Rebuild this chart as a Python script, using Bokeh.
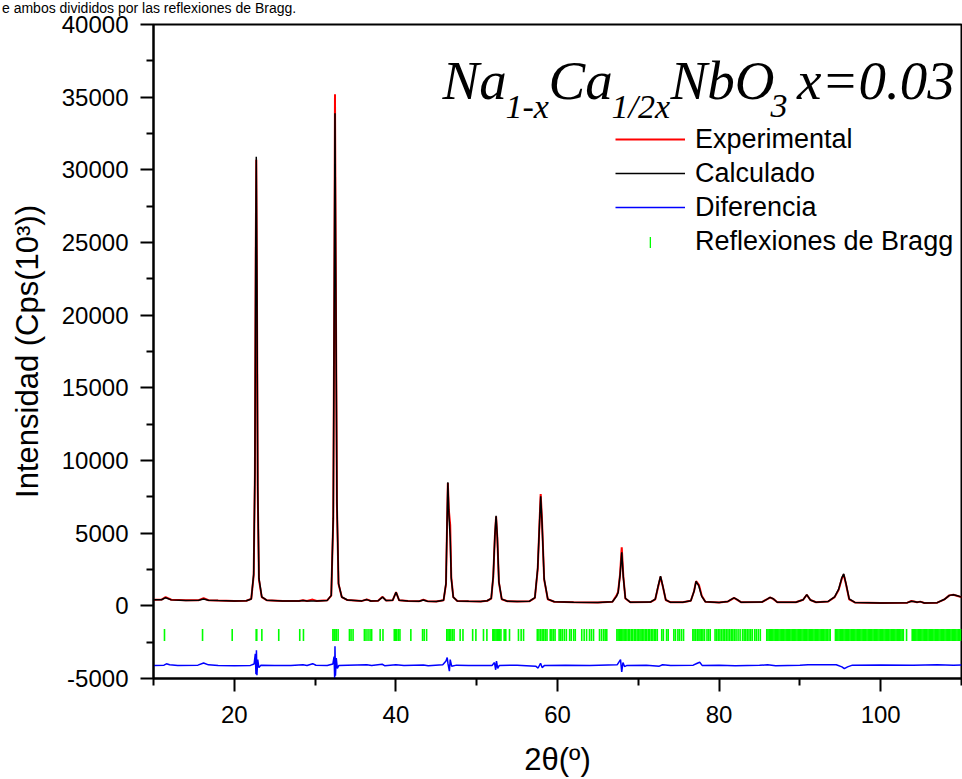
import numpy as np
from bokeh.plotting import figure
from bokeh.layouts import column
from bokeh.models import Range1d, FixedTicker, Legend, LegendItem, Label, Div
from bokeh.embed import file_html
from bokeh.resources import INLINE

# ---------------- data ----------------
two_theta = [10.0, 11.0, 11.5, 12.2, 14.0, 15.6, 16.2, 16.8, 18.0, 20.0, 21.5, 22.1, 22.4, 22.55,
             22.65, 22.72, 22.8, 22.9, 23.05, 23.4, 24.0, 26.0, 28.0, 28.5, 29.0, 29.7, 30.2, 31.5,
             32.0, 32.25, 32.38, 32.46, 32.55, 32.7, 32.9, 33.3, 34.0, 35.8, 36.4, 36.9, 37.8, 38.35,
             38.8, 39.6, 40.02, 40.4, 41.5, 42.9, 43.4, 43.9, 45.0, 45.9, 46.2, 46.33, 46.43, 46.55,
             46.72, 46.85, 47.1, 47.6, 49.0, 50.5, 51.3, 51.8, 52.05, 52.25, 52.4, 52.55, 52.75, 53.1,
             53.8, 55.0, 56.5, 57.2, 57.55, 57.78, 57.92, 58.08, 58.35, 58.8, 59.6, 62.0, 65.0, 66.8,
             67.3, 67.5, 67.75, 67.95, 68.15, 68.4, 69.0, 71.5, 72.1, 72.45, 72.75, 73.05, 73.4, 74.0,
             75.5, 76.5, 76.9, 77.15, 77.5, 77.85, 78.3, 80.0, 81.1, 81.5, 81.85, 82.2, 82.7, 85.3,
             85.9, 86.3, 86.7, 87.2, 89.5, 90.4, 90.85, 91.3, 92.0, 93.5, 94.3, 94.8, 95.2, 95.42,
             95.7, 96.1, 96.8, 100.0, 103.3, 103.8, 104.1, 104.5, 104.9, 105.4, 107.0, 107.9, 108.5,
             109.0, 109.5, 110.0]

exp_counts = [420, 430, 600, 420, 380, 390, 530, 385, 360, 340, 350, 480, 2100, 9000,
              24000, 30700, 22000, 8000, 1800, 600, 390, 335, 330, 390, 335, 430, 335, 380,
              700, 6000, 22000, 35200, 24000, 7000, 1500, 600, 400, 340, 440, 335, 350, 620,
              360, 380, 950, 380, 330, 320, 420, 320, 300, 380, 1500, 5500, 8450, 6600,
              5560, 2000, 600, 330, 310, 300, 350, 500, 2000, 4800, 6150, 4700, 1600, 450,
              320, 300, 310, 550, 2500, 5800, 7700, 5900, 1800, 450, 280, 250, 230, 280,
              700, 950, 2200, 4030, 2000, 500, 250, 260, 450, 1300, 2000, 1300, 400, 240,
              250, 350, 1000, 1700, 1450, 700, 280, 230, 300, 430, 540, 430, 250, 260,
              450, 570, 480, 250, 250, 420, 760, 400, 250, 300, 600, 1100, 1900, 2150,
              1500, 450, 230, 200, 220, 330, 300, 250, 290, 200, 220, 450, 720,
              760, 680, 600]

calc_counts = [410, 420, 560, 410, 375, 385, 470, 380, 360, 340, 350, 470, 2200, 9300,
               24500, 30900, 22500, 8200, 1900, 620, 390, 335, 330, 370, 330, 340, 330, 375,
               720, 6200, 22500, 33900, 23500, 7200, 1550, 610, 400, 340, 430, 330, 350, 600,
               360, 380, 930, 380, 330, 320, 400, 320, 300, 390, 1550, 5700, 8500, 6400,
               4670, 1900, 600, 330, 310, 300, 350, 520, 2050, 4850, 6200, 4750, 1650, 460,
               320, 300, 310, 560, 2600, 5750, 7530, 5800, 1850, 460, 280, 250, 230, 280,
               650, 900, 2150, 3690, 1950, 520, 250, 260, 460, 1350, 2040, 1320, 410, 240,
               250, 350, 1000, 1680, 1350, 650, 280, 230, 300, 440, 550, 440, 250, 260,
               450, 580, 490, 250, 250, 420, 770, 400, 250, 300, 620, 1150, 1950, 2200,
               1550, 480, 230, 200, 220, 320, 300, 250, 290, 200, 220, 450, 720,
               760, 690, 600]

diff_theta = [10.0, 11.3, 11.6, 12.0, 13.0, 15.5, 16.2, 16.8, 18.0, 20.0, 22.0, 22.45, 22.6,
              22.68, 22.74, 22.8, 22.9, 23.05, 23.3, 25.0, 27.0, 28.5, 29.0, 29.7, 30.1, 31.5,
              32.2, 32.35, 32.42, 32.46, 32.52, 32.62, 32.75, 32.95, 34.0, 36.4, 37.0, 38.3,
              38.6, 40.0, 41.0, 43.4, 44.0, 45.8, 46.2, 46.35, 46.45, 46.62, 46.72, 46.9, 47.5,
              49.0, 51.9, 52.2, 52.35, 52.45, 52.6, 52.8, 55.0, 57.3, 57.6, 57.9, 58.1, 58.4,
              61.0, 64.0, 67.4, 67.8, 67.95, 68.1, 68.3, 68.6, 71.0, 72.6, 73.0, 74.0, 76.8,
              77.3, 77.6, 77.9, 80.0, 82.0, 85.0, 86.0, 87.0, 90.0, 91.0, 93.0, 94.5, 95.2,
              95.5, 95.9, 96.5, 100.0, 104.0, 107.0, 109.0, 110.0]

diff_counts = [-4100, -4080, -3990, -4060, -4100, -4080, -3930, -4060, -4110, -4120, -4100, -4000, -3300,
               -4700, -3060, -4770, -3700, -4250, -4080, -4100, -4110, -4050, -4100, -3980, -4090, -4100,
               -4000, -3500, -5000, -2780, -4800, -3600, -4300, -4100, -4080, -4050, -4100, -4020,
               -4120, -4060, -4110, -4070, -4120, -4050, -3800, -3560, -4000, -4500, -3700, -4150, -4080,
               -4100, -4100, -3900, -4400, -3800, -4300, -4100, -4090, -4150, -4280, -3950, -4250, -4100,
               -4080, -4110, -4050, -3700, -4540, -3900, -4180, -4100, -4090, -4150, -4050, -4100, -4080,
               -3950, -3880, -4100, -4090, -4120, -4090, -4060, -4120, -4080, -4050, -4060, -4050, -4200,
               -4320, -4200, -4080, -4070, -4090, -4060, -4080, -4070]

bragg_positions = [
    11.36, 16.07, 19.74, 22.71, 22.78, 23.41, 25.5, 28.1, 28.56, 32.2, 32.35, 32.46, 32.62, 32.85,
    34.25, 34.45, 34.7, 36.1, 36.3, 36.55, 36.8, 37.0, 38.05, 38.4, 39.8, 39.95, 40.1, 40.3, 40.5,
    41.85, 43.3, 43.5, 43.8, 46.3, 46.45, 46.6, 46.8, 47.0, 47.2, 47.95, 48.3, 49.5, 49.9, 50.84,
    51.26, 52.0, 52.1, 52.25, 52.4, 52.55, 52.7, 52.85, 53.0, 53.4, 53.6, 54.06, 55.17, 55.5, 55.8,
    57.5, 57.7, 57.9, 58.1, 58.3, 58.5, 58.7, 59.1, 59.3, 59.5, 59.7, 60.2, 60.4, 60.6, 60.85, 61.1,
    61.5, 61.7, 62.0, 62.2, 63.0, 63.3, 63.6, 63.96, 64.2, 64.46, 65.2, 65.45, 65.7, 65.9, 66.1,
    67.35, 67.5, 67.65, 67.8, 67.95, 68.1, 68.25, 68.45, 68.6, 68.8, 68.95, 69.15, 69.3, 69.5,
    69.65, 69.85, 70.0, 70.2, 70.35, 70.55, 70.7, 70.9, 71.05, 71.25, 71.4, 71.6, 71.8, 72.0,
    72.15, 72.35, 72.9, 73.1, 73.5, 73.7, 74.4, 74.6, 74.9, 75.1, 75.35, 75.6, 76.75, 76.9, 77.1,
    77.3, 77.5, 77.65, 77.85, 78.0, 78.2, 78.5, 78.7, 78.9, 79.5, 79.7, 79.9, 80.1, 80.3, 80.5,
    80.7, 80.9, 81.1, 81.3, 81.5, 81.7, 81.9, 82.1, 82.35, 82.6, 82.9, 83.1, 83.3, 83.5, 83.7,
    83.9, 84.1, 84.4, 84.6, 84.85, 85.1, 85.9, 86.05, 86.2, 86.35, 86.5, 86.65, 86.8, 86.95,
    87.1, 87.25, 87.4, 87.55, 87.7, 87.85, 88.0, 88.15, 88.3, 88.45, 88.6, 88.75, 88.9, 89.05,
    89.2, 89.35, 89.5, 89.65, 89.8, 89.95, 90.1, 90.25, 90.4, 90.55, 90.7, 90.85, 91.0, 91.15,
    91.3, 91.45, 91.6, 91.75, 91.9, 92.05, 92.2, 92.35, 92.5, 92.65, 92.8, 92.95, 93.1, 93.25,
    93.4, 93.6, 93.75, 94.4, 94.55, 94.7, 94.85, 95.0, 95.15, 95.3, 95.45, 95.6, 95.75, 95.9,
    96.05, 96.2, 96.35, 96.5, 96.65, 96.8, 96.95, 97.1, 97.25, 97.4, 97.55, 97.7, 97.85, 98.0,
    98.15, 98.3, 98.45, 98.6, 98.75, 98.9, 99.05, 99.2, 99.35, 99.5, 99.65, 99.8, 99.95, 100.1,
    100.25, 100.4, 100.55, 100.7, 100.85, 101.0, 101.15, 101.3, 101.45, 101.6, 101.75, 101.9,
    102.05, 102.2, 102.35, 102.5, 102.65, 102.8, 103.2, 103.9, 104.05, 104.2, 104.35, 104.5,
    104.65, 104.8, 104.95, 105.1, 105.25, 105.4, 105.55, 105.7, 105.85, 106.0, 106.15, 106.3,
    106.45, 106.6, 106.75, 106.9, 107.05, 107.2, 107.35, 107.5, 107.65, 107.8, 107.95, 108.1,
    108.25, 108.4, 108.55, 108.7, 108.85, 109.0, 109.15, 109.3, 109.45, 109.6, 109.75, 109.9]
bragg_level = -2000

x_ticks = [20, 40, 60, 80, 100]
x_tick_labels = ["20", "40", "60", "80", "100"]
x_minor_ticks = [10, 30, 50, 70, 90, 110]
y_ticks = [-5000, 0, 5000, 10000, 15000, 20000, 25000, 30000, 35000, 40000]
y_tick_labels = ["-5000", "0", "5000", "10000", "15000", "20000", "25000", "30000", "35000", "40000"]
y_minor_ticks = [-2500, 2500, 7500, 12500, 17500, 22500, 27500, 32500, 37500]

series_names = ["Experimental", "Calculado", "Diferencia", "Reflexiones de Bragg"]
caption = "e ambos divididos por las reflexiones de Bragg."
x_title = "2θ(º)"
y_title = "Intensidad (Cps(10³))"

# ---------------- caption strip above the chart (cropped in the original) ----------------
cap = Div(text=('<div style="font-family:\'Liberation Sans\',Arial,sans-serif;font-size:14px;'
                'line-height:16px;white-space:nowrap;color:black;margin:0;padding:0 0 0 2px;">'
                + caption + '</div>'),
          width=962, height=9, margin=(0, 0, 0, 0), styles={"overflow": "visible"})

# ---------------- figure ----------------
p = figure(width=962, height=770, output_backend="svg", toolbar_location=None,
           x_range=Range1d(10, 110), y_range=Range1d(-5000, 40000),
           min_border_left=153, min_border_right=1, min_border_top=15, min_border_bottom=99,
           background_fill_color="white", border_fill_alpha=0, margin=(0, 0, 0, 0))
p.grid.visible = False
p.outline_line_color = "black"
p.outline_line_width = 2
p.outline_line_alpha = 1

p.xaxis.ticker = FixedTicker(ticks=x_ticks, minor_ticks=x_minor_ticks)
p.yaxis.ticker = FixedTicker(ticks=y_ticks, minor_ticks=y_minor_ticks)
p.xaxis.major_label_overrides = dict(zip(x_ticks, x_tick_labels))
p.yaxis.major_label_overrides = dict(zip(y_ticks, y_tick_labels))

for ax in (p.xaxis[0], p.yaxis[0]):
    ax.axis_line_width = 2
    ax.axis_line_color = "black"
    ax.major_tick_line_width = 2
    ax.minor_tick_line_width = 2
    ax.major_tick_line_color = "black"
    ax.minor_tick_line_color = "black"
    ax.major_tick_in = 0
    ax.major_tick_out = 13
    ax.minor_tick_in = 0
    ax.minor_tick_out = 7
    ax.major_label_text_font = "Liberation Sans"
    ax.major_label_text_font_size = "24px"
    ax.major_label_text_color = "black"
    ax.axis_label_text_font = "Liberation Sans"
    ax.axis_label_text_font_size = "31px"
    ax.axis_label_text_font_style = "normal"
    ax.axis_label_text_color = "black"

p.xaxis.axis_label = x_title
p.yaxis.axis_label = y_title
p.xaxis.major_label_standoff = 14
p.xaxis.axis_label_standoff = 16
p.yaxis.major_label_standoff = 12
p.yaxis.axis_label_standoff = 14

r_exp = p.line(two_theta, exp_counts, line_color="#ff0000", line_width=2)
r_calc = p.line(two_theta, calc_counts, line_color="black", line_width=1.5)
r_diff = p.line(diff_theta, diff_counts, line_color="#0000ff", line_width=1.5)
r_bragg = p.rect(x=bragg_positions, y=[bragg_level] * len(bragg_positions),
                 width=1.6, height=12, width_units="screen", height_units="screen",
                 fill_color="#00ff00", line_color=None)

legend_lines = Legend(items=[LegendItem(label=series_names[0], renderers=[r_exp]),
                             LegendItem(label=series_names[1], renderers=[r_calc]),
                             LegendItem(label=series_names[2], renderers=[r_diff])],
                      location=(462, 454), padding=0, spacing=0, margin=0,
                      glyph_width=70, glyph_height=34, label_height=34, label_standoff=10,
                      label_text_font="Liberation Sans", label_text_font_size="27px",
                      label_text_color="black",
                      border_line_alpha=0, background_fill_alpha=0)
p.add_layout(legend_lines)

legend_bragg = Legend(items=[LegendItem(label=series_names[3], renderers=[r_bragg])],
                      location=(496, 421), padding=0, spacing=0, margin=0,
                      glyph_width=2, glyph_height=14, label_height=14, label_standoff=44,
                      label_text_font="Liberation Sans", label_text_font_size="27px",
                      label_text_color="black",
                      border_line_alpha=0, background_fill_alpha=0)
p.add_layout(legend_bragg)

# formula title in pieces (main text and subscripts)
title_font = "Liberation Serif"
main_size = "55px"
sub_size = "34px"
pieces = [("Na", 45.77, 36130, main_size), ("1-x", 53.56, 34340, sub_size),
          ("Ca", 58.89, 36130, main_size), ("1/2x", 66.68, 34340, sub_size),
          ("NbO", 73.99, 36130, main_size), ("3", 86.36, 34410, sub_size),
          ("x=0.03", 89.65, 36130, main_size)]
for txt, xx, yy, fs in pieces:
    p.add_layout(Label(x=xx, y=yy, text=txt, text_font=title_font, text_font_style="italic",
                       text_font_size=fs, text_color="black", text_align="left",
                       text_baseline="alphabetic"))

layout = column(cap, p, spacing=0, margin=(0, 0, 0, 0))
open("out.html", "w").write(file_html(layout, INLINE))
